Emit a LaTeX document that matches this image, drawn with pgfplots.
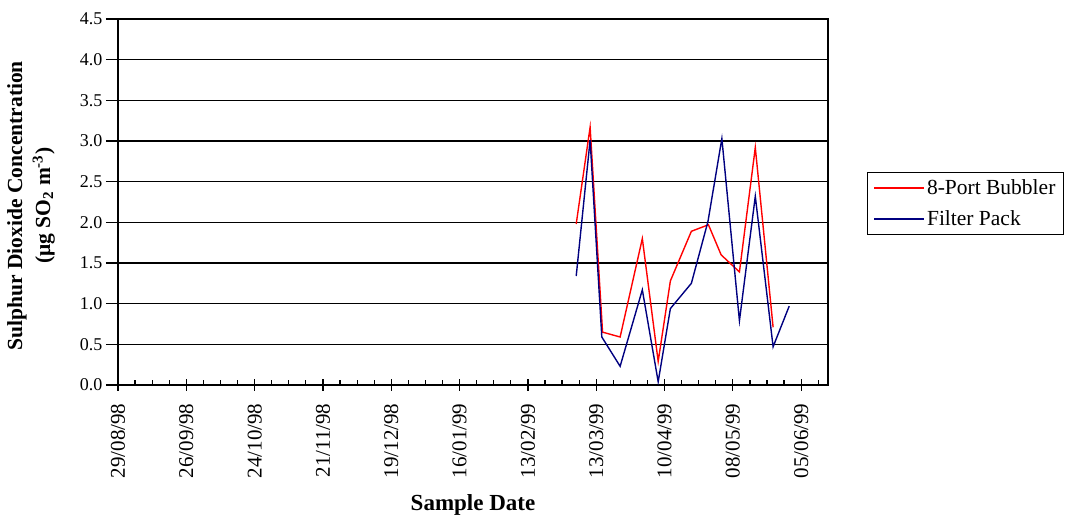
\documentclass[border=0pt]{standalone}
\usepackage{pgfplots}
\pgfplotsset{compat=1.18}
\usepackage{fontspec}
\setmainfont{Liberation Serif}
\definecolor{bubred}{RGB}{255,0,0}
\definecolor{fpnavy}{RGB}{0,0,128}
\begin{document}
\begin{tikzpicture}
\useasboundingbox (-118pt,-131pt) rectangle (950pt,385pt);
\begin{axis}[
  scale only axis, width=710pt, height=366pt,
  at={(0pt,0pt)}, anchor=south west,
  xmin=0, xmax=291, ymin=0, ymax=4.5,
  xtick={0,28,...,280},
  xticklabels={29/08/98,26/09/98,24/10/98,21/11/98,19/12/98,16/01/99,13/02/99,13/03/99,10/04/99,08/05/99,05/06/99},
  minor xtick={7,14,...,287},
  ytick={0,0.5,...,4.5},
  xtick pos=bottom, ytick pos=left,
  xticklabel style={rotate=90, anchor=east, font=\fontsize{21}{25}\selectfont},
  xticklabel shift=9pt,
  yticklabel style={font=\fontsize{18}{22}\selectfont},
  /pgf/number format/assume math mode=true,
  yticklabel={\pgfmathprintnumber[fixed,zerofill,precision=1]{\tick}},
  major x tick style={black, line width=1.2pt},
  minor x tick style={black, line width=1.2pt, yshift=2.5pt},
  major y tick style={black, line width=1.2pt},
  xtick align=center, ytick align=outside,
  major tick length=12pt, minor tick length=5pt,
  ymajorgrids, major grid style={black, line width=1.5pt},
  axis line style={black, line width=1.3pt},
  xlabel={\textbf{Sample Date}},
  xlabel style={at={(axis description cs:0.5,-0.328)}, anchor=center, font=\fontsize{23}{27}\selectfont},
  ylabel={\textbf{Sulphur Dioxide Concentration}\\\textbf{(μg SO\textsubscript{2} m\textsuperscript{-3})}},
  ylabel style={at={(axis description cs:-0.1225,0.49)}, anchor=center, align=center, font=\fontsize{21.5}{28}\selectfont},
  legend cell align=left,
  legend style={at={(axis description cs:1.055,0.496)}, anchor=west, draw=black, line width=1pt,
    font=\fontsize{21.5}{25}\selectfont, row sep=11pt, inner xsep=6pt, inner ysep=5pt},
]
\addplot[draw=bubred, line width=1.4pt,
  legend image code/.code={\draw[draw=bubred, line width=1.5pt] (0pt,0pt) -- (50pt,0pt);}] coordinates {
 (187.8,1.98) (193.5,3.17) (198.6,0.65) (205.8,0.59) (214.9,1.80) (221.4,0.29)
 (226.4,1.28) (235.0,1.89) (242.0,1.97) (247.2,1.60) (254.7,1.39) (261.2,2.92) (268.5,0.71)
};
\addlegendentry{8-Port Bubbler}
\addplot[draw=fpnavy, line width=1.4pt,
  legend image code/.code={\draw[draw=fpnavy, line width=1.5pt] (0pt,0pt) -- (50pt,0pt);}] coordinates {
 (187.8,1.34) (193.5,3.01) (198.3,0.59) (205.8,0.23) (214.9,1.17) (221.4,0.04)
 (226.4,0.94) (235.0,1.25) (241.8,2.01) (247.5,3.03) (254.7,0.79) (261.2,2.32) (268.5,0.47) (275.1,0.97)
};
\addlegendentry{Filter Pack}
\end{axis}
\end{tikzpicture}
\end{document}
